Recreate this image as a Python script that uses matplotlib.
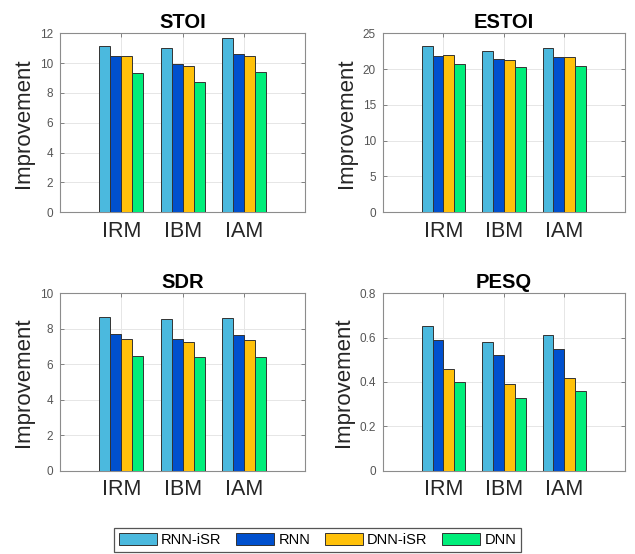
import numpy as np
import matplotlib
matplotlib.use("Agg")
import matplotlib.pyplot as plt

plt.rcParams.update({
    "font.family": ["Liberation Sans", "DejaVu Sans"],
    "font.size": 9,
})

# Data
masks = ["IRM", "IBM", "IAM"]
methods = ["RNN-iSR", "RNN", "DNN-iSR", "DNN"]

stoi = {
    "RNN-iSR": [11.17, 11.04, 11.66],
    "RNN": [10.50, 9.97, 10.59],
    "DNN-iSR": [10.46, 9.83, 10.50],
    "DNN": [9.34, 8.76, 9.39],
}
estoi = {
    "RNN-iSR": [23.28, 22.53, 22.90],
    "RNN": [21.88, 21.41, 21.65],
    "DNN-iSR": [21.97, 21.32, 21.74],
    "DNN": [20.72, 20.25, 20.48],
}
sdr = {
    "RNN-iSR": [8.65, 8.54, 8.60],
    "RNN": [7.70, 7.42, 7.64],
    "DNN-iSR": [7.43, 7.25, 7.38],
    "DNN": [6.48, 6.39, 6.40],
}
pesq = {
    "RNN-iSR": [0.65, 0.58, 0.61],
    "RNN": [0.59, 0.52, 0.55],
    "DNN-iSR": [0.46, 0.39, 0.42],
    "DNN": [0.40, 0.33, 0.36],
}

colors = ["#4BB9DE", "#0050CE", "#FFC10A", "#00EE7A"]

panels = [
    ("STOI", stoi, (0, 12), np.arange(0, 13, 2), [0.0945, 0.617, 0.386, 0.323]),
    ("ESTOI", estoi, (0, 25), np.arange(0, 26, 5), [0.603, 0.617, 0.381, 0.323]),
    ("SDR", sdr, (0, 10), np.arange(0, 11, 2), [0.0945, 0.150, 0.386, 0.321]),
    ("PESQ", pesq, (0, 0.8), [0, 0.2, 0.4, 0.6, 0.8], [0.603, 0.150, 0.381, 0.321]),
]

fig = plt.figure(figsize=(6.35, 5.54), dpi=100)

x = np.arange(1, len(masks) + 1)
bw = 0.18
handles = []
for title, data, ylim, yticks, pos in panels:
    ax = fig.add_axes(pos)
    for i, m in enumerate(methods):
        offset = (i - 1.5) * bw
        b = ax.bar(x + offset, data[m], width=bw, color=colors[i],
                   edgecolor="#333333", linewidth=0.7, label=m, zorder=3)
        if title == "STOI":
            handles.append(b)
    ax.set_xlim(0, 4)
    ax.set_ylim(*ylim)
    ax.set_xticks(x)
    ax.set_xticklabels(masks, fontsize=15.5, color="#262626")
    ax.set_yticks(yticks)
    ax.set_yticklabels([f"{t:g}" for t in yticks], fontsize=8.5, color="#555555")
    ax.set_title(title, fontsize=14.5, fontweight="bold", pad=4)
    ax.set_ylabel("Improvement", fontsize=16, color="#262626")
    ax.grid(True, color="#e6e6e6", linewidth=0.7, zorder=0)
    ax.tick_params(direction="in", length=3, top=True, right=True,
                   color="#808080", width=0.7)
    ax.tick_params(axis="x", pad=6)
    ax.tick_params(axis="y", pad=5)
    for s in ax.spines.values():
        s.set_color("#8c8c8c")
        s.set_linewidth(0.8)

leg = fig.legend(handles, methods, loc="upper center", ncol=4,
                 bbox_to_anchor=(0.5, 0.047), borderaxespad=0, fontsize=10.5,
                 handlelength=2.6, handleheight=0.9, handletextpad=0.3,
                 columnspacing=1.0, borderpad=0.35, fancybox=False,
                 edgecolor="#555555", framealpha=1)
leg.get_frame().set_linewidth(0.9)

fig.savefig("out.png", dpi=100)
